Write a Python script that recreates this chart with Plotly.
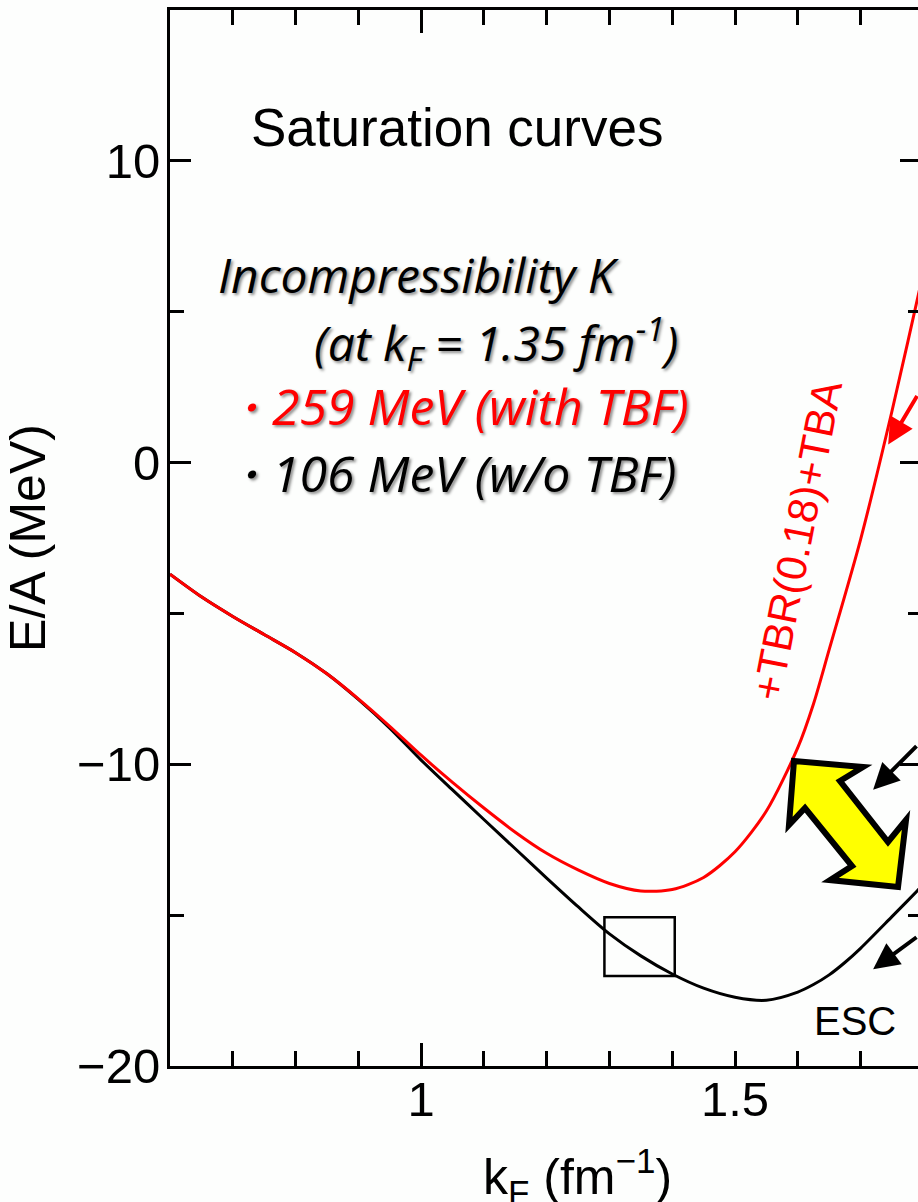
import plotly.graph_objects as go

# ---------------- data ----------------
k_esc = [0.60, 0.65, 0.70, 0.75, 0.80, 0.85, 0.90, 0.95, 1.00, 1.05, 1.10, 1.15, 1.20, 1.25,
         1.30, 1.35, 1.40, 1.45, 1.50, 1.55, 1.60, 1.625, 1.65, 1.675, 1.70, 1.75, 1.79, 1.85]
e_esc = [-3.7, -4.45, -5.1, -5.7, -6.3, -7.0, -7.85, -8.8, -9.86, -10.85, -11.83, -12.8, -13.77,
         -14.72, -15.62, -16.35, -16.95, -17.42, -17.72, -17.82, -17.55, -17.3, -16.98, -16.57,
         -16.1, -15.05, -14.2, -12.9]

k_tbf = [0.60, 0.65, 0.70, 0.75, 0.80, 0.85, 0.90, 0.95, 1.00, 1.05, 1.10, 1.15, 1.20, 1.25,
         1.30, 1.35, 1.40, 1.45, 1.50, 1.55, 1.60, 1.625, 1.65, 1.70, 1.75, 1.80, 1.85]
e_tbf = [-3.7, -4.45, -5.1, -5.7, -6.3, -7.0, -7.83, -8.74, -9.7, -10.6, -11.45, -12.25,
         -12.95, -13.5, -13.95, -14.2, -14.15, -13.75, -12.9, -11.55, -9.45, -8.0, -6.2, -2.55,
         1.7, 6.3, 11.0]

x_range = [0.6, 1.7915]
y_range = [-20, 15]

box_k = [1.292, 1.404]
box_e = [-17.02, -15.07]

label_tbf = "+TBR(0.18)+TBA"
label_esc = "ESC"

# ---------------- figure ----------------
W, H = 918, 1202
ML, MR, MT, MB = 170, 0, 10, 136
PW, PH = W - ML - MR, H - MT - MB
BG = "#fdfefd"


def px(x):
    return (x - ML) / PW


def py(y):
    return (H - MB - y) / PH


fig = go.Figure()
fig.add_trace(go.Scatter(x=k_esc, y=e_esc, mode="lines",
                         line=dict(color="black", width=3, shape="spline", smoothing=0.8),
                         hoverinfo="skip", showlegend=False))
fig.add_trace(go.Scatter(x=k_tbf, y=e_tbf, mode="lines",
                         line=dict(color="#ff0000", width=3, shape="spline", smoothing=0.8),
                         hoverinfo="skip", showlegend=False))
# carrier for the overlay axes (extra long tick at 1.0 and right-hand ticks)
fig.add_trace(go.Scatter(x=[None], y=[None], xaxis="x2", yaxis="y2", showlegend=False,
                         hoverinfo="skip"))

tickfont = dict(family="Liberation Sans, Arial, sans-serif", size=49, color="black")

fig.update_layout(
    width=W, height=H,
    margin=dict(l=ML, r=MR, t=MT, b=MB, autoexpand=False),
    paper_bgcolor=BG, plot_bgcolor=BG,
    showlegend=False,
    xaxis=dict(range=x_range, showline=True, linewidth=3, linecolor="black", mirror="ticks",
               ticks="inside", ticklen=15, tickwidth=3, tickcolor="black",
               tickmode="linear", tick0=0, dtick=0.5, tickfont=tickfont,
               ticklabelstandoff=-12,
               showgrid=False, zeroline=False,
               minor=dict(ticks="inside", ticklen=15, tickwidth=3, tickcolor="black",
                          tick0=0, dtick=0.1, showgrid=False)),
    xaxis2=dict(range=x_range, overlaying="x", anchor="y2", side="bottom",
                showline=False, mirror="ticks", ticks="inside", ticklen=23, tickwidth=3,
                tickcolor="black", tickmode="array", tickvals=[1.0],
                showticklabels=False, showgrid=False, zeroline=False),
    yaxis=dict(range=y_range, showline=True, linewidth=3, linecolor="black", mirror=False,
               ticks="inside", ticklen=21, tickwidth=3, tickcolor="black",
               tickmode="linear", tick0=0, dtick=10, tickfont=tickfont,
               ticklabelstandoff=-3,
               showgrid=False, zeroline=False,
               title=dict(text="E/A (MeV)", standoff=28,
                          font=dict(family="Liberation Sans, Arial, sans-serif", size=50,
                                    color="black")),
               minor=dict(ticks="inside", ticklen=14, tickwidth=3, tickcolor="black",
                          tick0=0, dtick=5, showgrid=False)),
    yaxis2=dict(range=y_range, overlaying="y", anchor="x2", side="right",
                showline=False, ticks="inside", ticklen=18, tickwidth=3, tickcolor="black",
                tickmode="linear", tick0=0, dtick=10, showticklabels=False,
                showgrid=False, zeroline=False,
                minor=dict(ticks="inside", ticklen=10, tickwidth=3, tickcolor="black",
                           tick0=0, dtick=5, showgrid=False)),
)

helv = "Liberation Sans, Arial, sans-serif"
ital = "Open Sans, Lato, sans-serif"
shadow = "2px 2px 3px rgba(0,0,0,0.45)"

annotations = [
    dict(text="k<sub>F</sub> (fm<sup>−1</sup>)", xref="paper", yref="paper",
         x=px(577), y=py(1176), xanchor="center", yanchor="middle", showarrow=False,
         font=dict(family=helv, size=50, color="black")),
    dict(text="Saturation curves", xref="paper", yref="paper", x=px(249), y=py(127),
         xanchor="left", yanchor="middle", showarrow=False,
         font=dict(family=helv, size=53, color="black")),
    dict(text="Incompressibility K", xref="paper", yref="paper", x=px(216), y=py(274),
         xanchor="left", yanchor="middle", showarrow=False,
         font=dict(family=ital, size=48, color="black", style="italic", shadow=shadow)),
    dict(text="(at k<sub>F</sub> = 1.35 fm<sup>-1</sup>)", xref="paper", yref="paper",
         x=px(312), y=py(343), xanchor="left", yanchor="middle", showarrow=False,
         font=dict(family=ital, size=48, color="black", style="italic", shadow=shadow)),
    dict(text="・259 MeV (with TBF)", xref="paper", yref="paper", x=px(220), y=py(406),
         xanchor="left", yanchor="middle", showarrow=False,
         font=dict(family=ital, size=50, color="#ff0000", style="italic", shadow=shadow)),
    dict(text="・106 MeV (w/o TBF)", xref="paper", yref="paper", x=px(220), y=py(473),
         xanchor="left", yanchor="middle", showarrow=False,
         font=dict(family=ital, size=50, color="black", style="italic", shadow=shadow)),
    dict(text=label_tbf, x=1.598, y=-2.6, xref="x", yref="y", textangle=-79,
         xanchor="center", yanchor="middle", showarrow=False,
         font=dict(family=helv, size=42, color="#ff0000")),
    dict(text=label_esc, x=1.691, y=-18.51, xref="x", yref="y",
         xanchor="center", yanchor="middle", showarrow=False,
         font=dict(family=helv, size=40, color="black")),
    # pointer arrows (tails run off the right edge)
    dict(text="", x=1.744, y=0.6, xref="x", yref="y", showarrow=True, ax=75, ay=-50,
         arrowcolor="#ff0000", arrowwidth=4, arrowhead=2, arrowsize=1.3),
    dict(text="", x=1.72, y=-10.84, xref="x", yref="y", showarrow=True, ax=75, ay=-45,
         arrowcolor="black", arrowwidth=4, arrowhead=2, arrowsize=1.3),
    dict(text="", x=1.72, y=-16.79, xref="x", yref="y", showarrow=True, ax=75, ay=-33,
         arrowcolor="black", arrowwidth=4, arrowhead=2, arrowsize=1.3),
]
fig.update_layout(annotations=annotations)

# framed box around the saturation region
fig.add_shape(type="rect", xref="x", yref="y", x0=box_k[0], x1=box_k[1], y0=box_e[0], y1=box_e[1],
              line=dict(color="black", width=2.5), fillcolor="rgba(0,0,0,0)")

# yellow double-headed arrow (decoration, pixel outline)
outline = [(794, 761), (863, 767), (840, 781), (888, 842), (906, 820), (898, 887),
           (830, 880), (852, 866), (805, 808), (789, 825)]
path = "M " + " L ".join(f"{px(a):.4f},{py(b):.4f}" for a, b in outline) + " Z"
fig.add_shape(type="path", xref="paper", yref="paper", path=path,
              fillcolor="#ffff00", line=dict(color="black", width=6))

fig.write_html("out.html")
